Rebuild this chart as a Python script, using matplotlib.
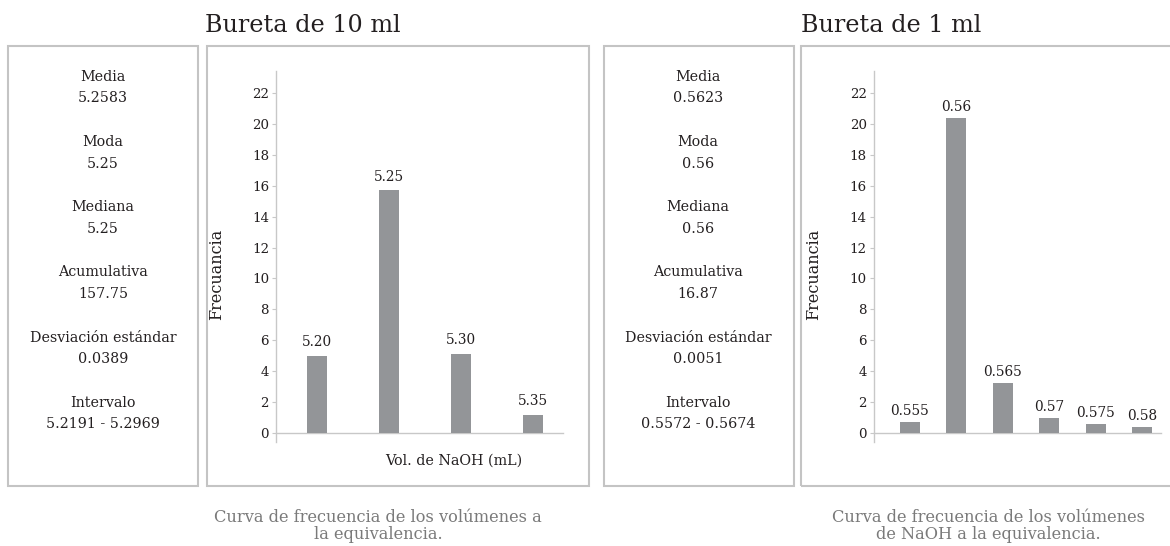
import matplotlib
matplotlib.use("Agg")
from matplotlib import pyplot as plt
from matplotlib.patches import Rectangle

# data
titles = ["Bureta de 10 ml", "Bureta de 1 ml"]
cats_10 = ["5.20", "5.25", "5.30", "5.35"]
freq_10 = [5.0, 15.7, 5.1, 1.15]
cats_1 = ["0.555", "0.56", "0.565", "0.57", "0.575", "0.58"]
freq_1 = [0.7, 20.4, 3.2, 0.95, 0.55, 0.35]
y_ticks = [0, 2, 4, 6, 8, 10, 12, 14, 16, 18, 20, 22]

stat_names = ["Media", "Moda", "Mediana", "Acumulativa",
              "Desviación estándar", "Intervalo"]
stats_10 = ["5.2583", "5.25", "5.25", "157.75", "0.0389", "5.2191 - 5.2969"]
stats_1 = ["0.5623", "0.56", "0.56", "16.87", "0.0051", "0.5572 - 0.5674"]

captions = ["Curva de frecuencia de los volúmenes a\nla equivalencia.",
            "Curva de frecuencia de los volúmenes\nde NaOH a la equivalencia."]

W, H = 1170, 546
TXT = "#231f20"
BAR = "#939598"
AXC = "#c8c8c8"
BOX = "#c4c4c4"

plt.rcParams["font.family"] = ["DejaVu Serif"]

fig = plt.figure(figsize=(W / 100, H / 100), dpi=100)


def fx(px):
    return px / W


def fy(py):
    return 1 - py / H


def box(x0, x1, y0=46, y1=485.5):
    fig.add_artist(Rectangle((fx(x0), fy(y1)), fx(x1) - fx(x0), fy(y0) - fy(y1),
                             transform=fig.transFigure, fill=False,
                             edgecolor=BOX, linewidth=1.5))


def stats_panel(xc, values):
    for i, (name, val) in enumerate(zip(stat_names, values)):
        y = 76.7 + 65.2 * i
        fig.text(fx(xc), fy(y), name, ha="center", va="center",
                 fontsize=10.3, color=TXT)
        fig.text(fx(xc), fy(y + 21.7), val, ha="center", va="center",
                 fontsize=10.3, color=TXT)


def bar_chart(left, right, cats, freq, xlim, label_off):
    ax = fig.add_axes([fx(left), fy(441.7), fx(right) - fx(left),
                       fy(71) - fy(441.7)])
    pos = list(range(len(cats)))
    ax.bar(pos, freq, width=20 / ((right - left) / (xlim[1] - xlim[0])),
           color=BAR, zorder=3)
    for p, c, v in zip(pos, cats, freq):
        ax.annotate(c, (p, v), xytext=(0, label_off), textcoords="offset points",
                    ha="center", va="bottom", fontsize=9.8, color=TXT)
    ax.set_xlim(*xlim)
    ax.set_ylim(-0.58, 23.44)
    ax.set_yticks(y_ticks)
    ax.set_xticks([])
    for s in ["top", "right"]:
        ax.spines[s].set_visible(False)
    ax.spines["bottom"].set_position(("data", 0))
    ax.spines["left"].set_color(AXC)
    ax.spines["bottom"].set_color(AXC)
    ax.spines["left"].set_linewidth(1.0)
    ax.spines["bottom"].set_linewidth(1.0)
    ax.tick_params(axis="y", length=3, color=AXC, labelsize=9.6,
                   labelcolor=TXT, pad=2)
    ax.set_ylabel("Frecuancia", fontsize=11.5, color=TXT)
    ax.yaxis.set_label_coords(-0.178, 0.452)
    ax.patch.set_alpha(0)
    return ax


# left panel: 10 ml burette
box(8, 198)
box(207, 589)
stats_panel(103, stats_10)
bar_chart(276, 562.7, cats_10, freq_10, (-0.57, 3.41), 5)
fig.text(fx(454), fy(461), "Vol. de NaOH (mL)", ha="center", va="center",
         fontsize=10.3, color=TXT)
fig.text(fx(303), fy(26), titles[0], ha="center", va="center",
         fontsize=17.2, color=TXT)
fig.text(fx(378), fy(526), captions[0], ha="center", va="center",
         fontsize=11.7, color="#7a7a7a", linespacing=1.05)

# right panel: 1 ml burette
box(603.5, 793.5)
box(801, 1180)
stats_panel(698, stats_1)
bar_chart(873.7, 1161, cats_1, freq_1, (-0.78, 5.41), 3)
fig.text(fx(891), fy(26), titles[1], ha="center", va="center",
         fontsize=17.2, color=TXT)
fig.text(fx(988), fy(526), captions[1], ha="center", va="center",
         fontsize=11.7, color="#7a7a7a", linespacing=1.05)

fig.savefig("out.png", dpi=100)
